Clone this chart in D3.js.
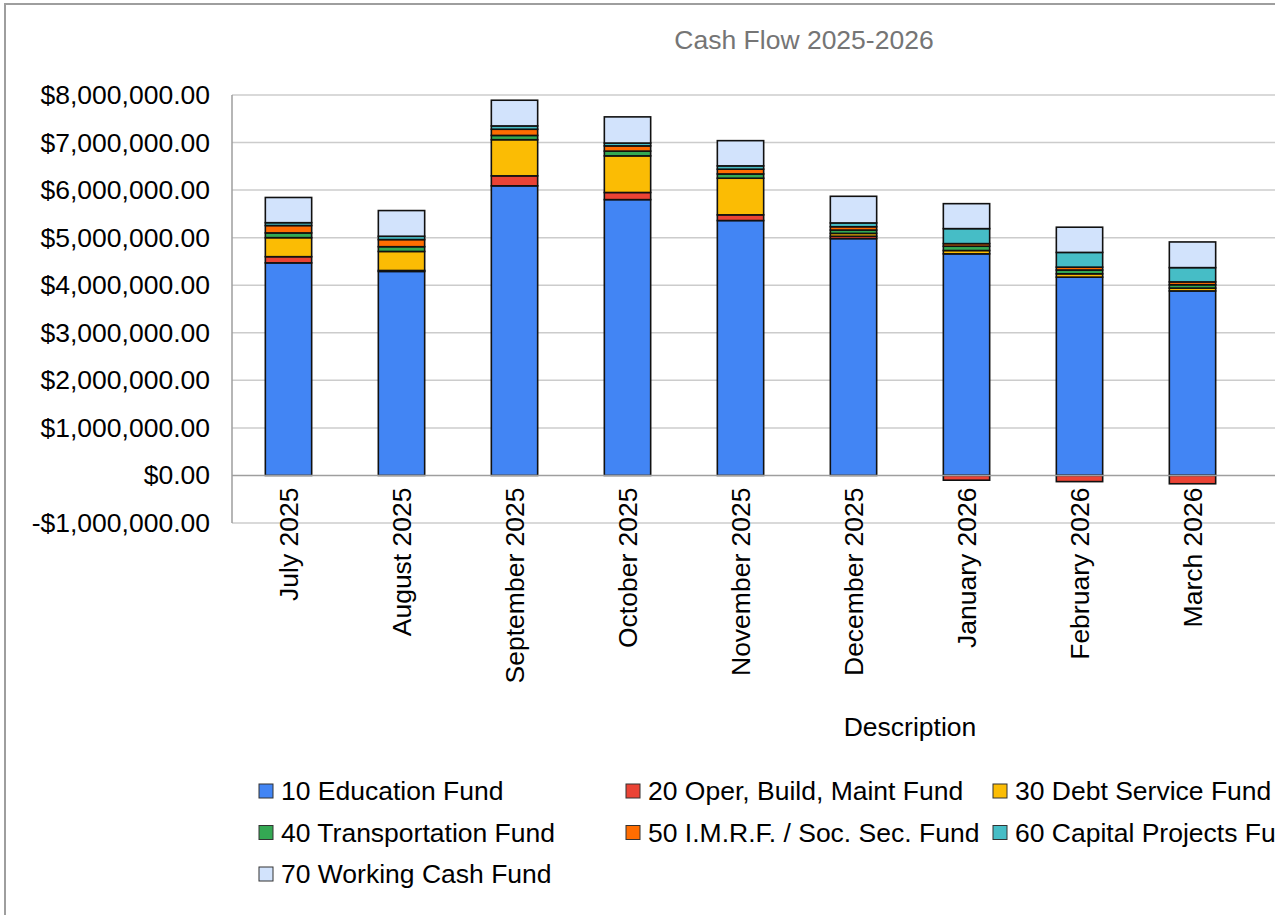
<!DOCTYPE html>
<html>
<head>
<meta charset="utf-8">
<script src="https://cdn.jsdelivr.net/npm/d3@7"></script>
<style>
  html, body { margin: 0; padding: 0; overflow: hidden; background: #fff; }
  text { font-family: "Liberation Sans", Arial, sans-serif; }
</style>
</head>
<body>
<script>
const w = 1275;
const h = 915;
const fontSize = "26.5px";

let months = ["July 2025", "August 2025", "September 2025", "October 2025", "November 2025",
  "December 2025", "January 2026", "February 2026", "March 2026"];

let fundNames = ["10 Education Fund", "20 Oper, Build, Maint Fund", "30 Debt Service Fund",
  "40 Transportation Fund", "50 I.M.R.F. / Soc. Sec. Fund", "60 Capital Projects Fund",
  "70 Working Cash Fund"];

let education = [4470000, 4290000, 6090000, 5800000, 5360000, 4980000, 4660000, 4170000, 3880000];
let operBuild = [130000, 20000, 210000, 150000, 120000, 50000, -100000, -130000, -175000];
let debtService = [400000, 400000, 760000, 770000, 770000, 60000, 70000, 70000, 60000];
let transport = [100000, 100000, 90000, 100000, 90000, 70000, 90000, 80000, 70000];
let imrf = [155000, 150000, 130000, 110000, 100000, 70000, 55000, 60000, 60000];
let capital = [60000, 70000, 70000, 60000, 70000, 80000, 315000, 310000, 300000];
let workingCash = [530000, 540000, 540000, 550000, 530000, 560000, 525000, 530000, 540000];

let yTicks = [-1000000, 0, 1000000, 2000000, 3000000, 4000000, 5000000, 6000000, 7000000, 8000000];

let colors = ["#4285f4", "#ea4335", "#fbbc04", "#34a853", "#ff6d01", "#46bdc6", "#d2e3fc"];

let series = [education, operBuild, debtService, transport, imrf, capital, workingCash];

let rows = months.map(function(m, i) {
  let r = { month: m };
  fundNames.forEach(function(f, j) { r[f] = series[j][i]; });
  return r;
});

const svg = d3.select("body").append("svg")
  .attr("width", w)
  .attr("height", h);

// outer chart border (runs off the right edge)
svg.append("path")
  .attr("d", "M5,915 L5,4 L1400,4")
  .attr("fill", "none")
  .attr("stroke", "#9e9e9e")
  .attr("stroke-width", 2);

svg.append("text")
  .attr("x", 804)
  .attr("y", 49)
  .attr("text-anchor", "middle")
  .attr("fill", "#757575")
  .style("font-size", fontSize)
  .text("Cash Flow 2025-2026");

// plot area keeps going past the window (rest of fiscal year is empty)
const plotRight = 1588;

const x = d3.scaleBand()
  .domain(months)
  .range([232, 1249]);

const y = d3.scaleLinear()
  .domain([-1000000, 8000000])
  .range([523, 95]);

let money = function(d) {
  let s = d3.format("$,.2f")(Math.abs(d));
  return d < 0 ? "-" + s : s;
};

// gridlines
svg.append("g")
  .selectAll("line")
  .data(yTicks.filter(d => d != 0))
  .enter()
  .append("line")
  .attr("x1", 232)
  .attr("x2", plotRight)
  .attr("y1", d => y(d))
  .attr("y2", d => y(d))
  .attr("stroke", "#cccccc")
  .attr("stroke-width", 1.5);

// y labels
svg.append("g")
  .selectAll("text")
  .data(yTicks)
  .enter()
  .append("text")
  .attr("x", 210)
  .attr("y", d => y(d) + 9)
  .attr("text-anchor", "end")
  .style("font-size", fontSize)
  .attr("fill", "#000")
  .text(d => money(d));

let stack = d3.stack()
  .keys(fundNames)
  .offset(d3.stackOffsetDiverging);

let layers = stack(rows);

let barW = x.bandwidth() * 0.41;

svg.append("g")
  .selectAll("g")
  .data(layers)
  .enter()
  .append("g")
  .attr("fill", (d, i) => colors[i])
  .selectAll("rect")
  .data(d => d.filter(p => p[1] - p[0] != 0))
  .enter()
  .append("rect")
  .attr("x", d => x(d.data.month) + (x.bandwidth() - barW) / 2)
  .attr("width", barW)
  .attr("y", d => y(d[1]))
  .attr("height", d => y(d[0]) - y(d[1]))
  .attr("stroke", "#111")
  .attr("stroke-width", 1.6);

// zero line and left axis
svg.append("line")
  .attr("x1", 232).attr("x2", plotRight)
  .attr("y1", y(0)).attr("y2", y(0))
  .attr("stroke", "#9e9e9e")
  .attr("stroke-width", 1.5);

svg.append("line")
  .attr("x1", 232).attr("x2", 232)
  .attr("y1", y(8000000)).attr("y2", y(-1000000))
  .attr("stroke", "#9e9e9e")
  .attr("stroke-width", 1.5);

// month labels
svg.append("g")
  .selectAll("text")
  .data(months)
  .enter()
  .append("text")
  .attr("transform", d => "translate(" + (x(d) + x.bandwidth() / 2 + 9) + "," + (y(0) + 12) + ") rotate(-90)")
  .attr("text-anchor", "end")
  .style("font-size", fontSize)
  .attr("fill", "#000")
  .text(d => d);

svg.append("text")
  .attr("x", (232 + plotRight) / 2)
  .attr("y", 736)
  .attr("text-anchor", "middle")
  .style("font-size", fontSize)
  .attr("fill", "#000")
  .text("Description");

// legend, 3 per row
let legend = svg.append("g");
fundNames.forEach(function(f, i) {
  let col = i % 3;
  let row = Math.floor(i / 3);
  let lx = 259 + col * 367;
  let ly = 800 + row * 41.5;
  legend.append("rect")
    .attr("x", lx)
    .attr("y", ly - 16)
    .attr("width", 14)
    .attr("height", 14)
    .attr("fill", colors[i])
    .attr("stroke", "#333")
    .attr("stroke-width", 1);
  legend.append("text")
    .attr("x", lx + 22)
    .attr("y", ly)
    .style("font-size", fontSize)
    .attr("fill", "#000")
    .text(f);
});
</script>
</body>
</html>
